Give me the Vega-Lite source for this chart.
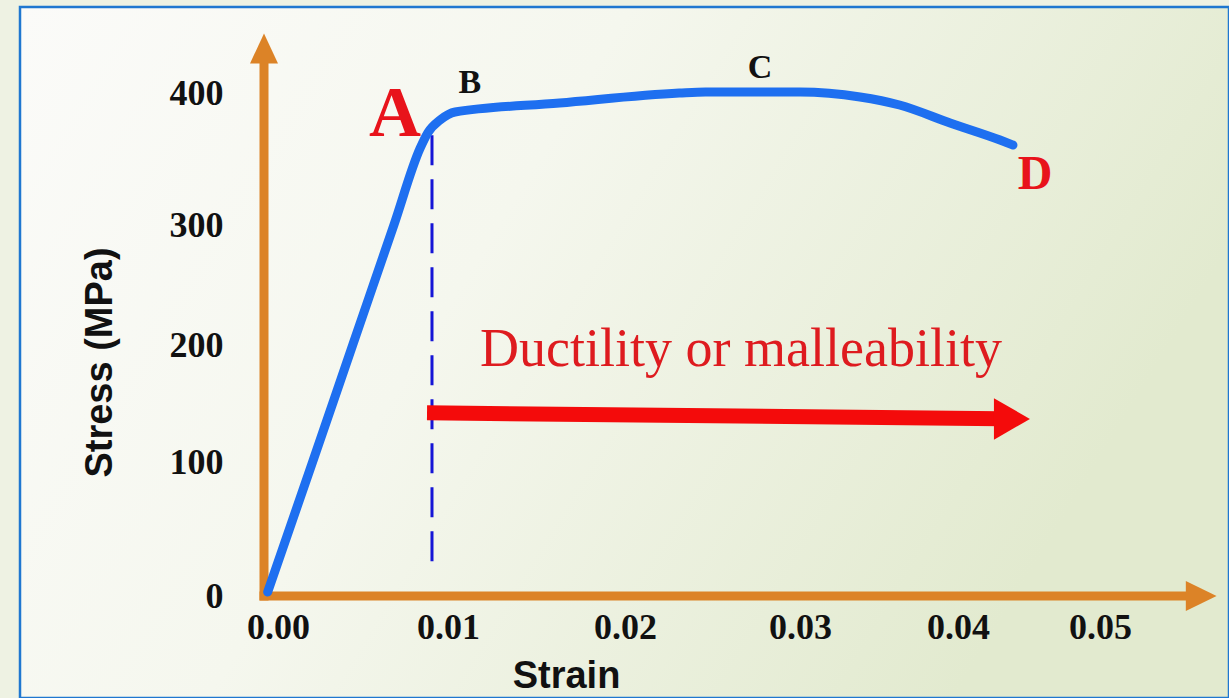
{
  "$schema": "https://vega.github.io/schema/vega-lite/v6.json",
  "width": 1209,
  "height": 691,
  "autosize": {"type": "none"},
  "padding": {"left": 20, "top": 7, "right": 0, "bottom": 0},
  "background": "#eef2e3",
  "config": {"view": {"stroke": null}},
  "layer": [
    {
      "data": {"values": [{"panel": "background"}]},
      "mark": {
        "type": "rect",
        "fill": {
          "gradient": "linear",
          "x1": 0, "y1": 0, "x2": 1, "y2": 0.35,
          "stops": [
            {"offset": 0, "color": "#fbfbf9"},
            {"offset": 0.45, "color": "#f5f7ee"},
            {"offset": 1, "color": "#e2eacf"}
          ]
        },
        "stroke": "#1f77d0",
        "strokeWidth": 2.5
      },
      "encoding": {}
    },
    {
      "encoding": {
        "x": {
          "field": "strain",
          "type": "quantitative",
          "scale": {"domain": [0, 0.01, 0.02, 0.03, 0.04, 0.05, 0.06], "range": [244, 428, 605, 780, 938, 1080, 1222], "nice": false, "zero": false},
          "axis": {
            "orient": "bottom",
            "offset": -102,
            "zindex": 1,
            "values": [0, 0.01, 0.02, 0.03, 0.04, 0.05],
            "format": ".2f",
            "domain": false,
            "ticks": false,
            "grid": false,
            "labelFlush": false,
            "labelOverlap": false,
            "labelFont": "Liberation Serif",
            "labelFontWeight": "bold",
            "labelFontSize": 36,
            "labelColor": "#111111",
            "labelPadding": 14,
            "labelOffset": {"condition": {"test": "datum.value === 0", "value": 14}, "value": 0},
            "title": "Strain",
            "titleFont": "Liberation Sans",
            "titleFontWeight": "bold",
            "titleFontSize": 38,
            "titleColor": "#111111",
            "titleX": 546,
            "titleY": 80,
            "titleAlign": "center",
            "titleBaseline": "middle"
          }
        },
        "y": {
          "field": "stress",
          "type": "quantitative",
          "scale": {"domain": [0, 100, 200, 300, 400, 450], "range": [589, 455, 338, 218, 86, 20], "nice": false, "zero": false},
          "axis": {
            "orient": "left",
            "offset": -244,
            "zindex": 1,
            "values": [0, 100, 200, 300, 400],
            "domain": false,
            "ticks": false,
            "grid": false,
            "labelFlush": false,
            "labelOverlap": false,
            "labelFont": "Liberation Serif",
            "labelFontWeight": "bold",
            "labelFontSize": 36,
            "labelColor": "#111111",
            "labelPadding": 41,
            "title": "Stress (MPa)",
            "titleFont": "Liberation Sans",
            "titleFontWeight": "bold",
            "titleFontSize": 38,
            "titleColor": "#111111",
            "titleX": -164,
            "titleY": 355,
            "titleAngle": 270,
            "titleAlign": "center",
            "titleBaseline": "middle"
          }
        }
      },
      "layer": [
        {
          "data": {"values": [
            {"strain": 0, "stress": 0, "strain2": 0.0567, "stress2": 0},
            {"strain": 0, "stress": 0, "strain2": 0, "stress2": 421}
          ]},
          "mark": {"type": "rule", "color": "#dc8327", "strokeWidth": 9, "strokeCap": "square"},
          "encoding": {"x2": {"field": "strain2"}, "y2": {"field": "stress2"}}
        },
        {
          "data": {"values": [{"strain": 0, "stress": 433}]},
          "mark": {"type": "point", "shape": "M -1 1 L 0 -1.14 L 1 1 Z", "size": 784, "filled": true, "color": "#dc8327", "opacity": 1, "strokeWidth": 0}
        },
        {
          "data": {"values": [{"strain": 0.0571, "stress": 0}]},
          "mark": {"type": "point", "shape": "M -1 -1 L 1.05 0 L -1 1 Z", "size": 900, "filled": true, "color": "#dc8327", "opacity": 1, "strokeWidth": 0}
        },
        {
          "data": {"values": [{"strain": 0.00913, "stress": 368, "stress2": 16}]},
          "mark": {"type": "rule", "color": "#1515d6", "strokeWidth": 3, "strokeDash": [30, 14]},
          "encoding": {"y2": {"field": "stress2"}}
        },
        {
          "data": {"values": [
            {"strain": 0.0002, "stress": 3},
            {"strain": 0.00264, "stress": 100},
            {"strain": 0.00482, "stress": 200},
            {"strain": 0.00706, "stress": 300},
            {"strain": 0.00848, "stress": 358},
            {"strain": 0.00891, "stress": 370},
            {"strain": 0.00957, "stress": 379.5},
            {"strain": 0.0104, "stress": 385.6},
            {"strain": 0.0163, "stress": 392.4},
            {"strain": 0.0231, "stress": 400},
            {"strain": 0.0246, "stress": 400.8},
            {"strain": 0.03, "stress": 400.8},
            {"strain": 0.0338, "stress": 397},
            {"strain": 0.0363, "stress": 390.9},
            {"strain": 0.0395, "stress": 377.3},
            {"strain": 0.04296, "stress": 364.4},
            {"strain": 0.04387, "stress": 360.6}
          ]},
          "mark": {"type": "line", "color": "#1e6ff0", "strokeWidth": 9, "interpolate": "monotone", "strokeCap": "round", "strokeJoin": "round"}
        },
        {
          "data": {"values": [{"strain": 0.00886, "stress": 142, "strain2": 0.0430, "stress2": 137}]},
          "mark": {"type": "rule", "color": "#f40b0b", "strokeWidth": 15},
          "encoding": {"x2": {"field": "strain2"}, "y2": {"field": "stress2"}}
        },
        {
          "data": {"values": [{"strain": 0.0438, "stress": 136.8}]},
          "mark": {"type": "point", "shape": "M -1 -1.15 L 1 0 L -1 1.15 Z", "size": 1296, "filled": true, "color": "#f40b0b", "opacity": 1, "strokeWidth": 0}
        },
        {
          "data": {"values": [{"strain": 0.00712, "stress": 367.4, "label": "A"}]},
          "mark": {"type": "text", "font": "Liberation Serif", "fontSize": 72, "fontWeight": "bold", "color": "#e8131b", "align": "center", "baseline": "alphabetic"},
          "encoding": {"text": {"field": "label"}}
        },
        {
          "data": {"values": [
            {"strain": 0.01124, "stress": 400, "label": "B"},
            {"strain": 0.02771, "stress": 411.4, "label": "C"}
          ]},
          "mark": {"type": "text", "font": "Liberation Serif", "fontSize": 34, "fontWeight": "bold", "color": "#111111", "align": "center", "baseline": "alphabetic"},
          "encoding": {"text": {"field": "label"}}
        },
        {
          "data": {"values": [{"strain": 0.04542, "stress": 327.3, "label": "D"}]},
          "mark": {"type": "text", "font": "Liberation Serif", "fontSize": 48, "fontWeight": "bold", "color": "#e8131b", "align": "center", "baseline": "alphabetic"},
          "encoding": {"text": {"field": "label"}}
        },
        {
          "data": {"values": [{"strain": 0.02663, "stress": 182, "label": "Ductility or malleability"}]},
          "mark": {"type": "text", "font": "Liberation Serif", "fontSize": 54, "fontWeight": "normal", "color": "#de1b1f", "align": "center", "baseline": "alphabetic"},
          "encoding": {"text": {"field": "label"}}
        }
      ]
    }
  ]
}
